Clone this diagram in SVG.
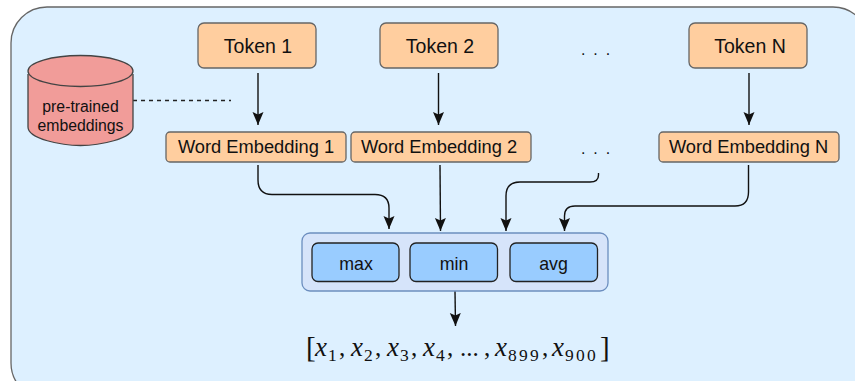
<svg xmlns="http://www.w3.org/2000/svg" width="855" height="381" viewBox="0 0 855 381">
<style>
text{font-family:"Liberation Sans",Arial,sans-serif;fill:#111;text-anchor:middle}
.o{fill:#ffce9f;stroke:#666;stroke-width:1.3}
.b{fill:#99ccff;stroke:#222;stroke-width:1.3}
.c{fill:none;stroke:#111;stroke-width:1.4;marker-end:url(#a)}
.t{font-size:19.500px}
.w{font-size:18.300px}
.m{font-size:17.800px}
.e{font-size:15.800px}
.d{font-size:16px;word-spacing:3.500px}
.x{font-family:"Liberation Serif",serif;font-style:italic;font-size:27px;text-anchor:start}
.s{font-family:"Liberation Serif",serif;font-size:17.500px;letter-spacing:2.200px;text-anchor:start}
.p{font-family:"Liberation Serif",serif;font-size:25px;text-anchor:start}
</style>
<defs><marker id="a" markerUnits="userSpaceOnUse" markerWidth="14" markerHeight="14" refX="13" refY="5.500" orient="auto"><path d="M0 0L13 5.500L0 11L2.500 5.500Z" fill="#111"/></marker></defs>
<rect width="855" height="381" fill="#fff"/>
<rect id="panel" x="11" y="7" width="858" height="392" rx="36" fill="#ddf0ff" stroke="#666" stroke-width="1.300"/>
<g id="connectors">
<path class="c" d="M258 73V125"/>
<path class="c" d="M438.500 73V125"/>
<path class="c" d="M749 73V125"/>
<path d="M133 100.500H231" fill="none" stroke="#222" stroke-width="1.300" stroke-dasharray="4 4"/>
<path class="c" d="M258 165V180Q258 194.500 272 194.500H375Q389 194.500 389 208V229"/>
<path class="c" d="M440 165L440.500 231"/>
<path class="c" d="M598.500 173V175Q598.500 182 590 182H520Q506 182 506 196V231"/>
<path class="c" d="M748.500 165V192Q748.500 206 735 206H575Q564.500 206 564.500 216V231"/>
<path class="c" d="M455 291L455.500 326"/>
</g>
<g id="db"><path d="M28 74V127C28 139 62 145.500 80.500 145.500C99 145.500 133 139 133 127V74" fill="#f19c99" stroke="#444" stroke-width="1.300"/><ellipse cx="80.500" cy="71" rx="52.500" ry="15.500" fill="#f19c99" stroke="#444" stroke-width="1.300"/><text class="e" x="80.500" y="112">pre-trained</text><text class="e" x="80.500" y="131">embeddings</text></g>
<g id="token1"><rect class="o" x="198" y="23" width="118" height="45" rx="6"/><text class="t" x="258" y="53">Token 1</text></g>
<g id="token2"><rect class="o" x="380" y="23" width="118" height="45" rx="6"/><text class="t" x="440" y="53">Token 2</text></g>
<g id="tokenN"><rect class="o" x="689" y="23" width="118" height="45" rx="6"/><text class="t" x="750" y="53">Token N</text></g>
<g id="word1"><rect class="o" x="166" y="132" width="180" height="30" rx="4"/><text class="w" x="256" y="153">Word Embedding 1</text></g>
<g id="word2"><rect class="o" x="351" y="132" width="180" height="30" rx="4"/><text class="w" x="439" y="153">Word Embedding 2</text></g>
<g id="wordN"><rect class="o" x="659" y="132" width="180" height="30" rx="4"/><text class="w" x="748.500" y="153">Word Embedding N</text></g>
<text class="d" x="595.500" y="55">. . .</text>
<text class="d" x="595.500" y="154">. . .</text>
<g id="pool"><rect x="302" y="233" width="306" height="58" rx="8" fill="#d6e4fa" stroke="#6c8ebf" stroke-width="1.300"/></g>
<g id="max"><rect class="b" x="312" y="243" width="87" height="38.500" rx="6"/><text class="m" x="356" y="270">max</text></g>
<g id="min"><rect class="b" x="410" y="243" width="87.500" height="38.500" rx="6"/><text class="m" x="454" y="270">min</text></g>
<g id="avg"><rect class="b" x="510" y="243" width="87.500" height="38.500" rx="6"/><text class="m" x="553.500" y="270">avg</text></g>
<g id="vector">
<text class="p" x="306" y="357" style="font-size:29px">[</text>
<text class="x" x="315" y="356">x</text><text class="s" x="328" y="361">1</text><text class="p" x="339" y="356">,</text>
<text class="x" x="351" y="356">x</text><text class="s" x="364" y="361">2</text><text class="p" x="375" y="356">,</text>
<text class="x" x="387" y="356">x</text><text class="s" x="400" y="361">3</text><text class="p" x="411" y="356">,</text>
<text class="x" x="423" y="356">x</text><text class="s" x="436" y="361">4</text><text class="p" x="447" y="356">,</text>
<text class="p" x="460" y="356">...</text><text class="p" x="484" y="356">,</text>
<text class="x" x="495" y="356">x</text><text class="s" x="508" y="361">899</text><text class="p" x="542" y="356">,</text>
<text class="x" x="552" y="356">x</text><text class="s" x="565" y="361">900</text>
<text class="p" x="600" y="357" style="font-size:29px">]</text>
</g>
</svg>
